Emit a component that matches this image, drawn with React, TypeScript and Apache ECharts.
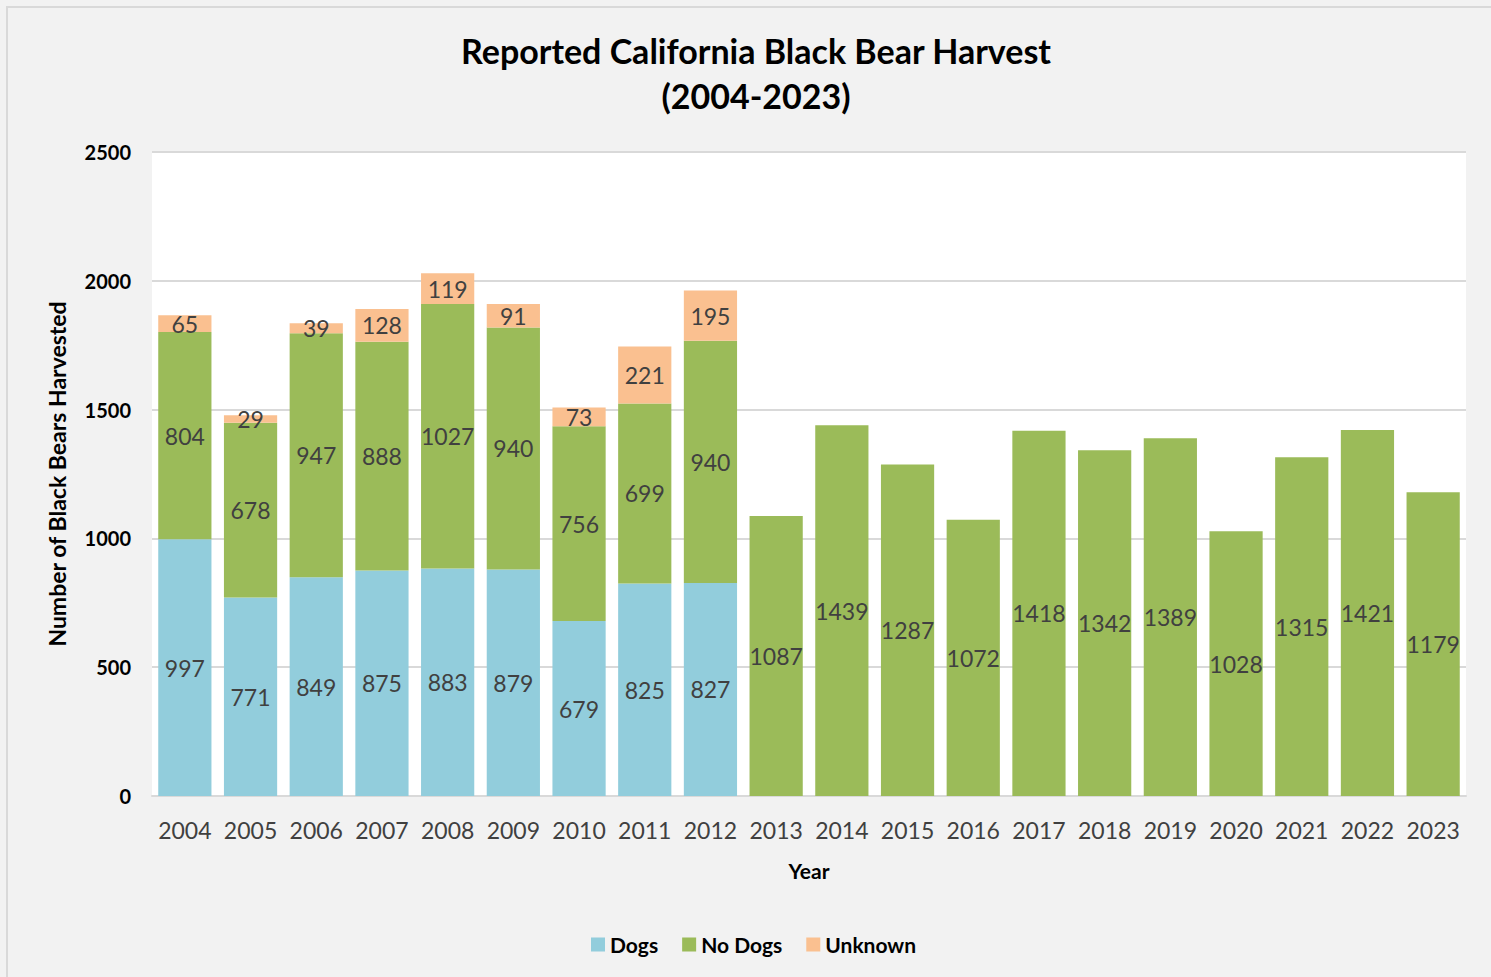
import React, { useEffect, useRef } from "react";
import * as echarts from "echarts";

const years = ["2004","2005","2006","2007","2008","2009","2010","2011","2012","2013","2014","2015","2016","2017","2018","2019","2020","2021","2022","2023"];
const dogs = [997, 771, 849, 875, 883, 879, 679, 825, 827, null, null, null, null, null, null, null, null, null, null, null];
const noDogs = [804, 678, 947, 888, 1027, 940, 756, 699, 940, 1087, 1439, 1287, 1072, 1418, 1342, 1389, 1028, 1315, 1421, 1179];
const unknown = [65, 29, 39, 128, 119, 91, 73, 221, 195, null, null, null, null, null, null, null, null, null, null, null];
const seriesNames = ["Dogs", "No Dogs", "Unknown"];
const colors = ["#92CDDC", "#9BBB59", "#FAC090"];

const FONT = "Lato";

export default function App() {
  const ref = useRef<HTMLDivElement>(null);
  useEffect(() => {
    const chart = echarts.init(ref.current!, null, { renderer: "svg" });
    const label = {
      show: true,
      position: "inside",
      color: "#404040",
      fontSize: 23,
      fontFamily: FONT,
    };
    const datasets = [dogs, noDogs, unknown];
    chart.setOption({
      animation: false,
      backgroundColor: "#f2f2f2",
      textStyle: { fontFamily: FONT },
      title: {
        text: "Reported California Black Bear Harvest\n(2004-2023)",
        left: 751,
        top: 23,
        textAlign: "center",
        textStyle: { fontSize: 34, fontWeight: "bold", color: "#000", lineHeight: 45, fontFamily: FONT },
      },
      graphic: [
        {
          type: "rect",
          shape: { x: 7, y: 7, width: 1500, height: 1000 },
          style: { fill: "none", stroke: "#d9d9d9", lineWidth: 2 },
          silent: true,
        },
      ],
      legend: {
        data: seriesNames,
        left: 586,
        top: 929,
        itemWidth: 14,
        itemHeight: 14,
        itemGap: 24,
        icon: "rect",
        textStyle: { fontSize: 21, fontWeight: "bold", color: "#000", fontFamily: FONT },
      },
      grid: {
        left: 152,
        top: 152,
        right: 25,
        bottom: 181,
        show: true,
        backgroundColor: "#ffffff",
        borderWidth: 0,
      },
      xAxis: {
        type: "category",
        data: years,
        name: "Year",
        nameLocation: "middle",
        nameGap: 64,
        nameTextStyle: { fontSize: 21, fontWeight: "bold", color: "#000", fontFamily: FONT },
        axisLine: { show: true, lineStyle: { color: "#d9d9d9", width: 2 } },
        axisTick: { show: false },
        axisLabel: { color: "#404040", fontSize: 23, margin: 22, interval: 0, fontFamily: FONT },
      },
      yAxis: {
        type: "value",
        min: 0,
        max: 2500,
        interval: 500,
        name: "Number of Black Bears Harvested",
        nameLocation: "middle",
        nameGap: 84,
        nameTextStyle: { fontSize: 23, fontWeight: "bold", color: "#000", fontFamily: FONT },
        axisLine: { show: false },
        axisTick: { show: false },
        axisLabel: {
          color: "#000",
          fontSize: 20,
          fontWeight: "bold",
          margin: 21,
          fontFamily: FONT,
          formatter: (v: number) => String(v),
        },
        splitLine: { lineStyle: { color: "#d9d9d9", width: 2 } },
      },
      series: seriesNames.map((name, i) => ({
        name,
        type: "bar",
        stack: "total",
        data: datasets[i],
        barCategoryGap: "19%",
        itemStyle: { color: colors[i] },
        label,
      })),
    });
    return () => chart.dispose();
  }, []);
  return (
    <div
      ref={ref}
      style={{ position: "fixed", left: 0, top: 0, width: 1491, height: 977 }}
    />
  );
}
